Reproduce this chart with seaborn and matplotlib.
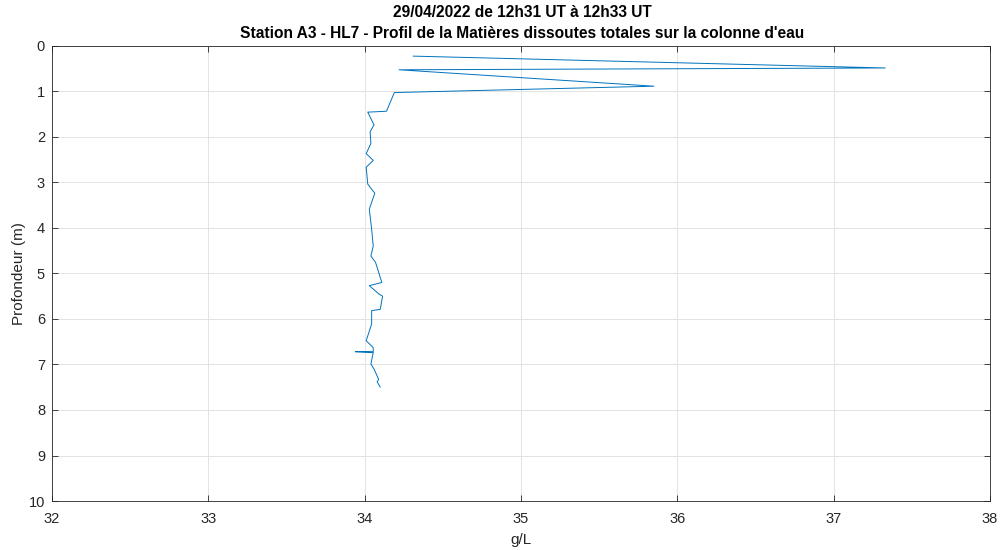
import matplotlib
matplotlib.use("Agg")
import matplotlib.pyplot as plt
import seaborn as sns
import pandas as pd

# Profile measurements: total dissolved matter (g/L) versus depth (m)
concentration = [34.31, 37.33, 34.22, 35.85, 34.19, 34.14, 34.02, 34.06, 34.035, 34.04,
                 34.01, 34.055, 34.01, 34.02, 34.065, 34.03, 34.045, 34.055, 34.04, 34.07,
                 34.11, 34.03, 34.09, 34.115, 34.10, 34.045, 34.045, 34.01, 34.055, 34.055,
                 33.94, 34.055, 34.04, 34.06, 34.09, 34.08, 34.10]
depth = [0.23, 0.49, 0.53, 0.89, 1.03, 1.44, 1.46, 1.74, 1.89, 2.15,
         2.37, 2.52, 2.67, 3.04, 3.24, 3.59, 4.03, 4.40, 4.62, 4.76,
         5.20, 5.27, 5.45, 5.50, 5.79, 5.82, 6.11, 6.48, 6.63, 6.72,
         6.72, 6.74, 6.99, 7.10, 7.33, 7.38, 7.50]

x_ticks = [32, 33, 34, 35, 36, 37, 38]
y_ticks = [0, 1, 2, 3, 4, 5, 6, 7, 8, 9, 10]

title_lines = ["29/04/2022 de 12h31 UT à 12h33 UT",
               "Station A3 - HL7 - Profil de la Matières dissoutes totales sur la colonne d'eau"]

sns.set_theme(style="white")
plt.rcParams["font.family"] = ["Liberation Sans", "DejaVu Sans"]

df = pd.DataFrame({"conc": concentration, "depth": depth})

fig = plt.figure(figsize=(10.03, 5.5), dpi=100)
ax = fig.add_axes([0.0518, 0.089, 0.9352, 0.828])

sns.lineplot(data=df, x="conc", y="depth", sort=False, estimator=None,
             color="#0072BD", linewidth=0.7, ax=ax)

ax.set_xlim(32, 38)
ax.set_ylim(10, 0)
ax.set_xticks(x_ticks)
ax.set_yticks(y_ticks)
ax.set_xticklabels([str(t) for t in x_ticks])
ax.set_yticklabels([str(t) for t in y_ticks])

ax.grid(True, color="#e3e3e3", linewidth=0.7)
ax.set_axisbelow(True)
for side in ["left", "right", "top", "bottom"]:
    ax.spines[side].set_visible(True)
    ax.spines[side].set_color("#262626")
    ax.spines[side].set_linewidth(0.6)

ax.tick_params(axis="both", which="both", direction="in", length=4, width=0.6,
               colors="#262626", labelsize=10.5, top=True, right=True,
               bottom=True, left=True)
ax.tick_params(axis="x", pad=8)
ax.tick_params(axis="y", pad=5)

ax.set_xlabel("g/L", fontsize=11, color="#262626", labelpad=5)
ax.set_ylabel("Profondeur (m)", fontsize=11, color="#262626", labelpad=2)

fig.text(0.521, 0.977, title_lines[0], ha="center", va="center",
         fontsize=11.2, fontweight="bold", color="black")
fig.text(0.521, 0.940, title_lines[1], ha="center", va="center",
         fontsize=11.2, fontweight="bold", color="black")

fig.savefig("out.png", dpi=100)
